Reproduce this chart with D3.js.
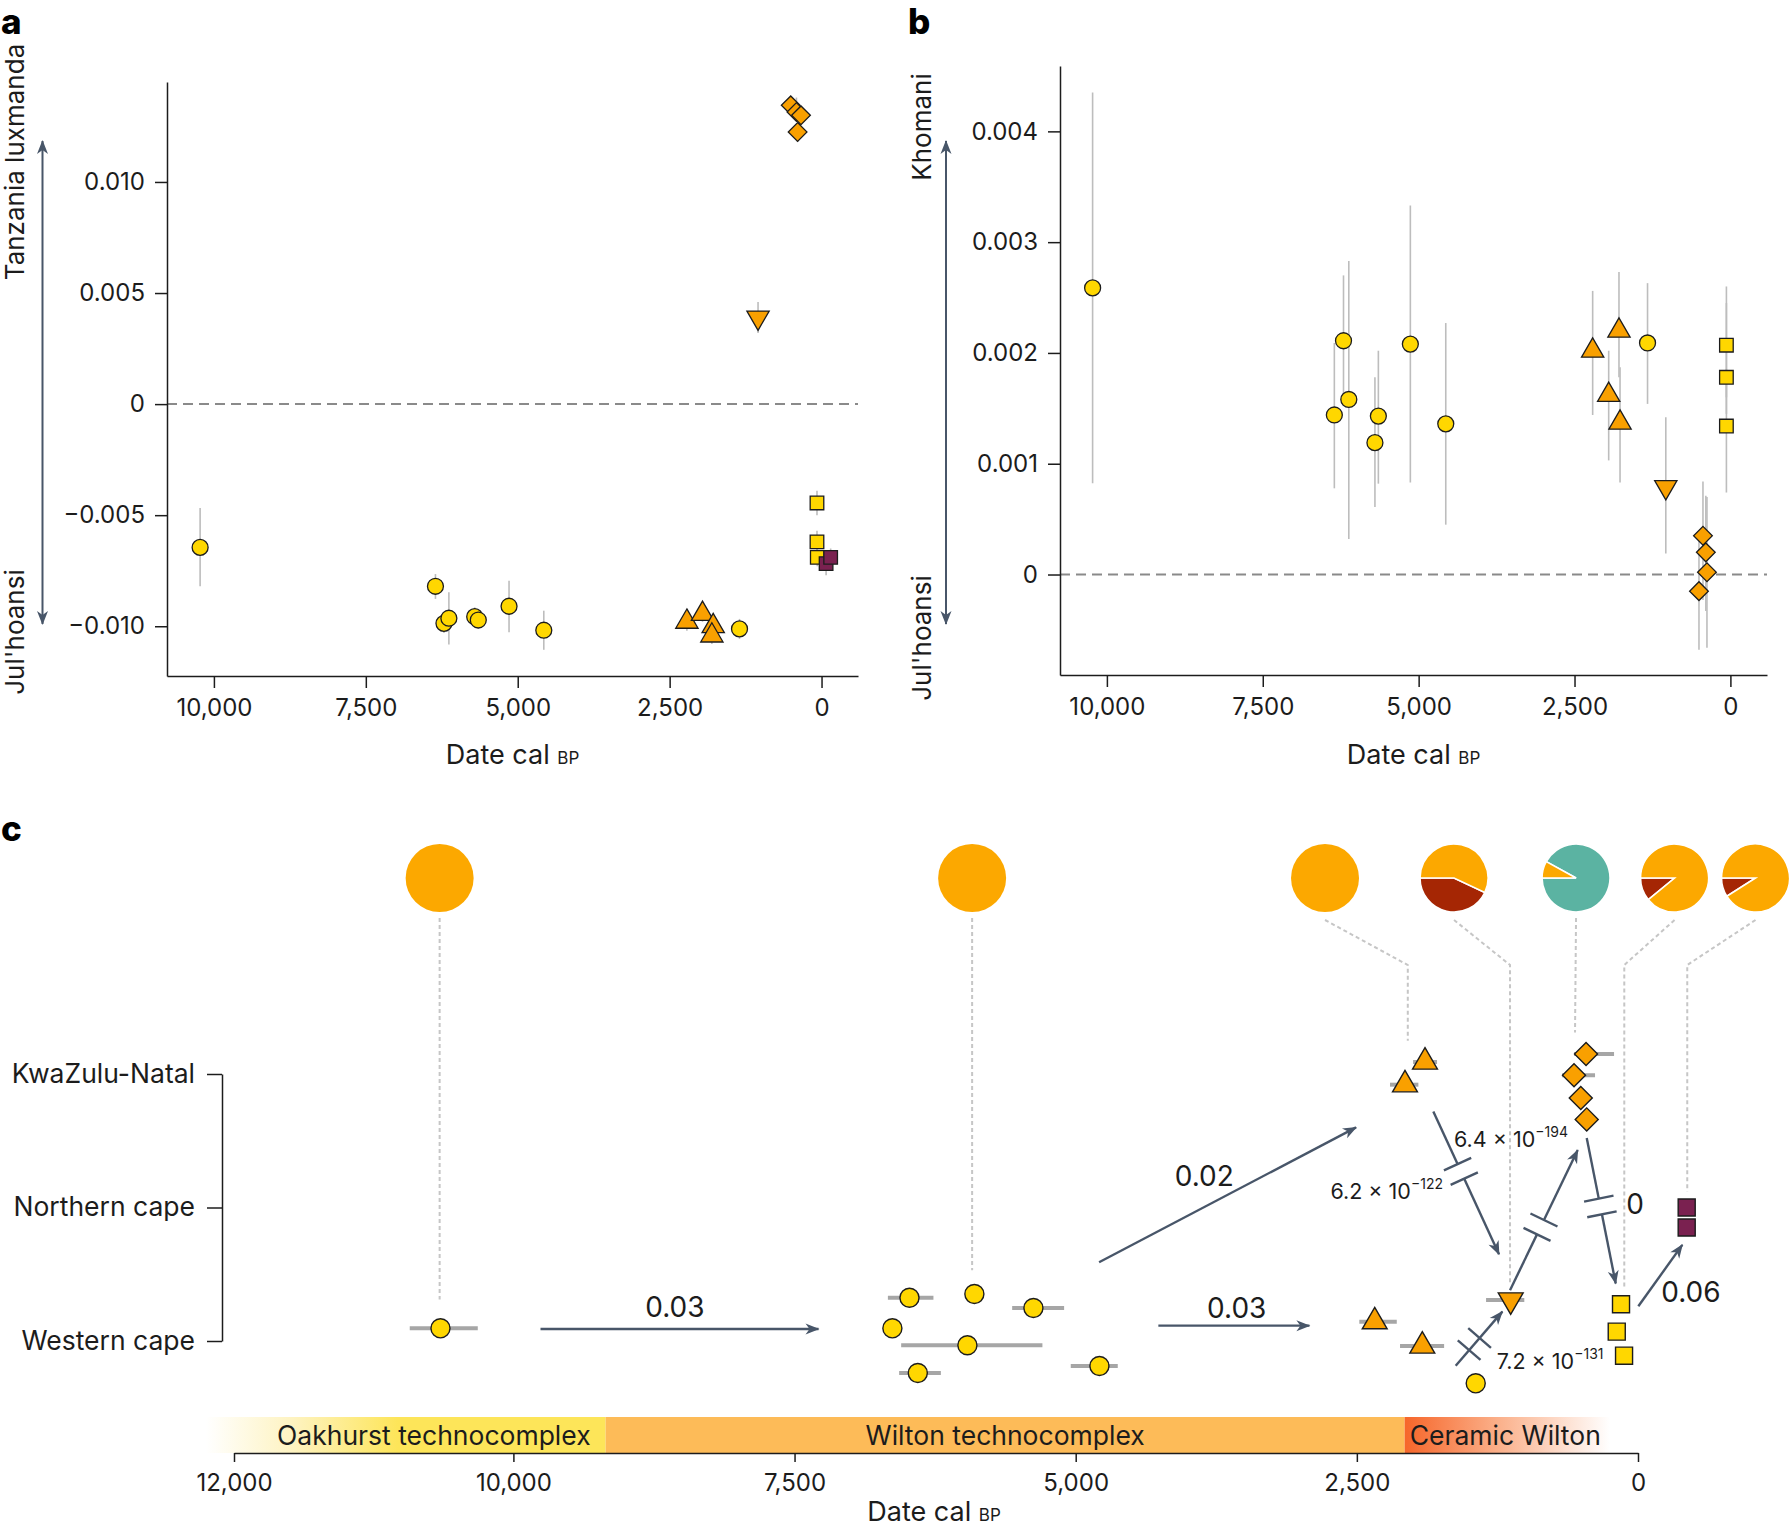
<!DOCTYPE html>
<html>
<head>
<meta charset="utf-8">
<script src="https://cdn.jsdelivr.net/npm/d3@7"></script>
<style>
  body { margin: 0; background: #fff; }
  svg { display: block; font-family: Inter, "Noto Sans", sans-serif; }
</style>
</head>
<body>
<svg id="fig" width="1791" height="1530"></svg>
<script>
// ---------------- data ----------------
// kinds: c = Western Cape forager (circle), t = triangle, v = down triangle,
//        d = diamond, s = yellow square, p = purple square

// panel a: Tanzania luxmanda <-> Jul'hoansi
const aKind  = ["c","c","c","c","c","c","c","c","c","t","t","t","t","v","d","d","d","d","s","s","s","p","p"];
const aDate  = [10227,6354,6214,6133,5708,5649,5143,4571,1350,2216,1959,1783,1805,1045,507,413,338,394,75,75,70,-75,-150];
const aValue = [-0.00645,-0.0082,-0.00987,-0.00964,-0.00957,-0.00972,-0.0091,-0.01018,-0.01012,
                -0.0098,-0.00945,-0.0100,-0.01042,0.0039,0.01345,0.01315,0.0130,0.01225,-0.00445,-0.0062,-0.0069,-0.00718,-0.0069];
const aLow   = [-0.0082,-0.00877,-0.0103,-0.01082,-0.01005,-0.0101,-0.01027,-0.01106,-0.01057,
                -0.0102,-0.0098,-0.0104,-0.0108,0.0032,0.0132,0.0129,0.0127,0.0118,-0.0050,-0.0066,-0.0073,-0.0077,-0.0073];
const aHigh  = [-0.00468,-0.00765,-0.0096,-0.00847,-0.00915,-0.0093,-0.00795,-0.0093,-0.00967,
                -0.0095,-0.0091,-0.0097,-0.0101,0.0046,0.0138,0.0138,0.0133,0.0126,-0.0039,-0.0057,-0.0065,-0.0069,-0.0065];
const aXTicks = [10000, 7500, 5000, 2500, 0];
const aXTickLabels = ["10,000", "7,500", "5,000", "2,500", "0"];
const aYTicks = [-0.010, -0.005, 0, 0.005, 0.010];
const aYTickLabels = ["\u22120.010", "\u22120.005", "0", "0.005", "0.010"];

// panel b: Khomani <-> Jul'hoansi
const bKind  = ["c","c","c","c","c","c","c","c","c","t","t","t","t","v","d","d","d","d","s","s","s"];
const bDate  = [10229,6352,6205,6120,5701,5646,5133,4565,1329,2209,1952,1787,1770,1036,504,440,394,376,64,64,64];
const bValue = [0.002587,0.00144,0.00211,0.00158,0.00119,0.00143,0.00208,0.00136,0.00209,
                0.00202,0.00162,0.00220,0.00137,0.00079,-0.00015,0.00035,0.00020,0.00002,0.00207,0.00178,0.00134];
const bLow   = [0.000823,0.000778,0.00152,0.00032,0.00061,0.00082,0.00083,0.00045,0.00154,
                0.00144,0.00103,0.00178,0.00083,0.00019,-0.00068,-0.00023,-0.00033,-0.00066,0.00160,0.00145,0.00074];
const bHigh  = [0.004351,0.00209,0.0027,0.00283,0.00178,0.00202,0.00333,0.00227,0.00263,
                0.00256,0.00202,0.00273,0.00187,0.00142,0.00038,0.00084,0.00071,0.00070,0.00260,0.00245,0.00185];
const bXTicks = [10000, 7500, 5000, 2500, 0];
const bXTickLabels = ["10,000", "7,500", "5,000", "2,500", "0"];
const bYTicks = [0, 0.001, 0.002, 0.003, 0.004];
const bYTickLabels = ["0", "0.001", "0.002", "0.003", "0.004"];

// panel c: samples by region (row 0 Western cape, 1 Northern cape, 2 KwaZulu-Natal, fractional = jitter)
const regionNames = ["Western cape", "Northern cape", "KwaZulu-Natal"];
const cKind    = ["c","c","c","c","c","c","c","c","t","t","c","v","s","s","s","p","p","t","t","d","d","d","d"];
const cDate    = [10522,6478,5901,5376,6630,5963,6404,4789,2341,1918,1443,1132,151,189,124,-433,-433,1894,2072,462,569,509,456];
const cRow     = [0.095,0.324,0.352,0.247,0.095,-0.032,-0.24,-0.187,0.145,-0.037,-0.317,0.307,0.275,0.07,-0.11,1.0,0.85,2.09,1.92,2.15,1.99,1.82,1.66];
const cDateLow = [10255,6265,null,5103,null,5296,6199,4626,2145,1724,null,1011,null,null,null,null,null,1787,1953,213,382,null,null];
const cDateHigh= [10742,6670,null,5565,null,6552,6570,5044,2478,2116,null,1351,null,null,null,null,null,2000,2205,569,676,null,null];
const cXTicks = [12000, 10000, 7500, 5000, 2500, 0];
const cXTickLabels = ["12,000", "10,000", "7,500", "5,000", "2,500", "0"];

// technocomplex periods (date cal BP)
const periodNames = ["Oakhurst technocomplex", "Wilton technocomplex", "Ceramic Wilton"];
const periodStart = [12200, 9180, 2075];
const periodEnd   = [9180, 2075, 0];

// ancestry pies: [Khomani-like, Tanzania-like(red), Jul'hoansi-like(orange)]
const pieShares = [
  [0, 0, 1], [0, 0, 1], [0, 0, 1],
  [0, 0.43, 0.57], [0.92, 0, 0.08], [0, 0.11, 0.89], [0, 0.09, 0.91]
];
const pieAnchorDates = [10528, 5921, 2783, 1636, 551, -325, -1045];
const pieTargetDates = [10528, 5921, 2047, 1138, 560, 122, -438];
const pieTargetRows  = [0.31, 0.53, 2.25, 0.42, 2.31, 0.40, 1.12];

// continuity p-values between groups
const flows = [
  {from: [9759, 0.09],  to: [7287, 0.09],  label: "0.03",  at: [8564, 0.18]},
  {from: [4265, 0.115], to: [2922, 0.115], label: "0.03",  at: [3568, 0.17]},
  {from: [4792, 0.59],  to: [2507, 1.60],  label: "0.02",  at: [3856, 1.16]},
  {from: [1820, 1.72],  to: [1236, 0.65],  label: "6.2 \u00d7 10", exp: "\u2212122", at: [1734, 1.06], anchor: "end",   cut: 0.42, gap: true},
  {from: [1138, 0.38],  to: [536, 1.43],   label: "6.4 \u00d7 10", exp: "\u2212194", at: [1636, 1.45], anchor: "start", cut: 0.45, gap: true},
  {from: [456, 1.52],   to: [198, 0.43],   label: "0",     at: [27, 0.95], cut: 0.47, gap: true},
  {from: [1621, -0.185],to: [1206, 0.22],  label: "7.2 \u00d7 10", exp: "\u2212131", at: [1256, -0.21], anchor: "start", cut: 0.40, gap: false},
  {from: [-3, 0.26],    to: [-394, 0.72],  label: "0.06",  at: [-471, 0.29]}
];

// ---------------- styles ----------------
const INK = "#1c1c1c", SLATE = "#485669";
const YELLOW = "#ffd700", ORANGE = "#f9a000", PURPLE = "#7a2150";
const pieColors = ["#5bb3a2", "#a52604", "#fca800"];
const shapeOf = {c: d3.symbolCircle, t: d3.symbolTriangle, v: d3.symbolTriangle, d: d3.symbolSquare, s: d3.symbolSquare, p: d3.symbolSquare};
const rotOf = {c: 0, t: 0, v: 180, d: 45, s: 0, p: 0};
const fillOf = {c: YELLOW, t: ORANGE, v: ORANGE, d: ORANGE, s: YELLOW, p: PURPLE};
const areaAB = {c: 200, t: 215, v: 215, d: 175, s: 185, p: 185};
const areaC  = {c: 285, t: 268, v: 268, d: 265, s: 290, p: 290};

const svg = d3.select("#fig");
const defs = svg.append("defs");
defs.append("marker").attr("id", "head")
  .attr("viewBox", "-14 -7 16 14").attr("markerWidth", 16).attr("markerHeight", 14)
  .attr("refX", 0).attr("refY", 0).attr("orient", "auto-start-reverse").attr("markerUnits", "userSpaceOnUse")
  .append("path").attr("d", "M1,0 L-13,-5.5 L-9,0 L-13,5.5Z").attr("fill", SLATE);

function styleAxis(g, size) {
  g.selectAll(".domain").attr("stroke", INK).attr("stroke-width", 1.5);
  g.selectAll(".tick line").attr("stroke", INK).attr("stroke-width", 1.5);
  g.selectAll(".tick text").attr("fill", INK).attr("font-size", size).attr("font-family", "Inter, sans-serif");
}

function dateTitle(x, y) {
  const t = svg.append("text").attr("x", x).attr("y", y).attr("text-anchor", "middle")
    .attr("fill", INK).attr("font-size", 27);
  t.append("tspan").text("Date cal ");
  t.append("tspan").attr("font-size", 17).text("BP");
}

function sidePanel(opt) {
  const x = d3.scaleLinear().domain(opt.xDomain).range(opt.xRange);
  const y = d3.scaleLinear().domain(opt.yDomain).range(opt.yRange);
  const g = svg.append("g");

  g.append("line")
    .attr("x1", opt.xRange[0]).attr("x2", opt.xRange[1])
    .attr("y1", y(0)).attr("y2", y(0))
    .attr("stroke", "#8a8a8a").attr("stroke-width", 2).attr("stroke-dasharray", "10,6");

  const pts = opt.kind.map((k, i) => ({k, date: opt.date[i], v: opt.value[i], lo: opt.low[i], hi: opt.high[i]}));
  g.selectAll(".err").data(pts).join("line")
    .attr("x1", d => x(d.date)).attr("x2", d => x(d.date))
    .attr("y1", d => y(d.lo)).attr("y2", d => y(d.hi))
    .attr("stroke", "#bdbdbd").attr("stroke-width", 1.6);

  g.selectAll(".pt").data(pts).join("path")
    .attr("d", d => d3.symbol(shapeOf[d.k], areaAB[d.k])())
    .attr("transform", d => `translate(${x(d.date)},${y(d.v)}) rotate(${rotOf[d.k]})`)
    .attr("fill", d => fillOf[d.k]).attr("stroke", INK).attr("stroke-width", 1.3);

  const ax = g.append("g").attr("transform", `translate(0,${opt.yRange[0]})`)
    .call(d3.axisBottom(x).tickValues(opt.xTicks).tickFormat((d, i) => opt.xLabels[i])
      .tickSize(12).tickSizeOuter(0).tickPadding(11));
  styleAxis(ax, 24);
  const ay = g.append("g").attr("transform", `translate(${opt.xRange[0]},0)`)
    .call(d3.axisLeft(y).tickValues(opt.yTicks).tickFormat((d, i) => opt.yLabels[i])
      .tickSize(12).tickSizeOuter(0).tickPadding(10));
  styleAxis(ay, 24);

  // direction arrow
  g.append("line").attr("x1", opt.arrowX).attr("x2", opt.arrowX)
    .attr("y1", 141).attr("y2", 624)
    .attr("stroke", SLATE).attr("stroke-width", 2)
    .attr("marker-start", "url(#head)").attr("marker-end", "url(#head)");
  g.append("text").attr("transform", `translate(${opt.labelX},${opt.topLabelY}) rotate(-90)`)
    .attr("text-anchor", "middle").attr("fill", INK).attr("font-size", 26).text(opt.topLabel);
  g.append("text").attr("transform", `translate(${opt.labelX},${opt.botLabelY}) rotate(-90)`)
    .attr("text-anchor", "middle").attr("fill", INK).attr("font-size", 26).text("Jul'hoansi");

  dateTitle((opt.xRange[0] + opt.xRange[1]) / 2, 764);
}

// ---------------- panel a ----------------
sidePanel({
  kind: aKind, date: aDate, value: aValue, low: aLow, high: aHigh,
  xDomain: [10772, -600], xRange: [167, 858],
  yDomain: [-0.01224, 0.0145], yRange: [676, 82],
  xTicks: aXTicks, xLabels: aXTickLabels, yTicks: aYTicks, yLabels: aYTickLabels,
  arrowX: 42.5, labelX: 24, topLabel: "Tanzania luxmanda", topLabelY: 162, botLabelY: 632
});

// ---------------- panel b ----------------
sidePanel({
  kind: bKind, date: bDate, value: bValue, low: bLow, high: bHigh,
  xDomain: [10752, -587], xRange: [1060, 1767],
  yDomain: [-0.000907, 0.00459], yRange: [675, 66],
  xTicks: bXTicks, xLabels: bXTickLabels, yTicks: bYTicks, yLabels: bYTickLabels,
  arrowX: 946, labelX: 931, topLabel: "Khomani", topLabelY: 127, botLabelY: 638
});

// ---------------- panel c ----------------
const cx = d3.scaleLinear().domain([12000, 10000, 0]).range([234, 513.4, 1638]);
const cy = d3.scaleLinear().domain([0, 2]).range([1341, 1074]);
const gc = svg.append("g");

// technocomplex bar
const barTop = 1417, barH = 36;
const gradO = defs.append("linearGradient").attr("id", "gOak").attr("gradientUnits", "userSpaceOnUse")
  .attr("x1", cx(periodStart[0])).attr("x2", cx(periodEnd[0])).attr("y1", 0).attr("y2", 0);
gradO.append("stop").attr("offset", 0).attr("stop-color", "#ffffff");
gradO.append("stop").attr("offset", 0.22).attr("stop-color", "#fef3c0");
gradO.append("stop").attr("offset", 0.48).attr("stop-color", "#fde559");
gradO.append("stop").attr("offset", 1).attr("stop-color", "#fde559");
const gradC = defs.append("linearGradient").attr("id", "gCer").attr("gradientUnits", "userSpaceOnUse")
  .attr("x1", cx(periodStart[2])).attr("x2", cx(periodEnd[2])).attr("y1", 0).attr("y2", 0);
gradC.append("stop").attr("offset", 0).attr("stop-color", "#f6662a");
gradC.append("stop").attr("offset", 0.4).attr("stop-color", "#fbb08a");
gradC.append("stop").attr("offset", 0.88).attr("stop-color", "#ffffff");
const periodFill = ["url(#gOak)", "#fdbb58", "url(#gCer)"];
const periodAnchor = ["end", "middle", "start"];
gc.selectAll(".period").data(periodNames).join("rect")
  .attr("x", (d, i) => cx(periodStart[i])).attr("width", (d, i) => cx(periodEnd[i]) - cx(periodStart[i]))
  .attr("y", barTop).attr("height", barH).attr("fill", (d, i) => periodFill[i]);
gc.selectAll(".plabel").data(periodNames).join("text")
  .attr("x", (d, i) => i === 0 ? cx(periodEnd[i]) - 15 : i === 2 ? cx(periodStart[i]) + 5 : (cx(periodStart[i]) + cx(periodEnd[i])) / 2)
  .attr("y", barTop + 28).attr("text-anchor", (d, i) => periodAnchor[i])
  .attr("fill", INK).attr("font-size", 26.5).text(d => d);

const cax = gc.append("g").attr("transform", `translate(0,${barTop + barH})`)
  .call(d3.axisBottom(cx).tickValues(cXTicks).tickFormat((d, i) => cXTickLabels[i])
    .tickSize(9).tickSizeOuter(0).tickPadding(12));
styleAxis(cax, 24);
dateTitle(934, 1521);

// region bracket axis
const cay = gc.append("g").attr("transform", "translate(222,0)")
  .call(d3.axisLeft(cy).tickValues([0, 1, 2]).tickFormat(i => regionNames[i])
    .tickSize(15).tickSizeOuter(0).tickPadding(12));
styleAxis(cay, 26.5);

// pies and leader lines
const pieY = 878, pieR = 34, elbowY = 965;
const pieLayout = d3.pie().sort(null).startAngle(1.5 * Math.PI).endAngle(-0.5 * Math.PI);
const arc = d3.arc().innerRadius(0).outerRadius(pieR);
pieShares.forEach((shares, i) => {
  const px = cx(pieAnchorDates[i]), tx = cx(pieTargetDates[i]), ty = cy(pieTargetRows[i]);
  const pts = Math.abs(px - tx) < 2 ? [[px, pieY + 40], [tx, ty]] : [[px, pieY + 42], [tx, elbowY], [tx, ty]];
  gc.append("path").attr("d", d3.line()(pts)).attr("fill", "none")
    .attr("stroke", "#c6c6c6").attr("stroke-width", 2).attr("stroke-dasharray", "4,3");
  const pg = gc.append("g").attr("transform", `translate(${px},${pieY})`);
  pg.selectAll("path").data(pieLayout(shares).map((a, j) => ({a, j})).filter(d => d.a.value > 0)).join("path")
    .attr("d", d => arc(d.a)).attr("fill", d => pieColors[d.j])
    .attr("stroke", "#fff").attr("stroke-width", shares.filter(s => s > 0).length > 1 ? 1.6 : 0);
});

// horizontal date error bars
const cPts = cKind.map((k, i) => ({k, date: cDate[i], row: cRow[i], lo: cDateLow[i], hi: cDateHigh[i]}));
gc.selectAll(".cerr").data(cPts.filter(d => d.lo != null)).join("line")
  .attr("x1", d => cx(d.lo)).attr("x2", d => cx(d.hi))
  .attr("y1", d => cy(d.row)).attr("y2", d => cy(d.row))
  .attr("stroke", "#a6a6a6").attr("stroke-width", 4);

// flows
flows.forEach(f => {
  const x1 = cx(f.from[0]), y1 = cy(f.from[1]), x2 = cx(f.to[0]), y2 = cy(f.to[1]);
  const L = Math.hypot(x2 - x1, y2 - y1), ux = (x2 - x1) / L, uy = (y2 - y1) / L;
  const seg = (a, b, head) => {
    const l = gc.append("line").attr("x1", a[0]).attr("y1", a[1]).attr("x2", b[0]).attr("y2", b[1])
      .attr("stroke", SLATE).attr("stroke-width", 2.4);
    if (head) l.attr("marker-end", "url(#head)");
  };
  if (f.cut == null) {
    seg([x1, y1], [x2, y2], true);
  } else {
    const mx = x1 + ux * L * f.cut, my = y1 + uy * L * f.cut, g = 8;
    if (f.gap) {
      seg([x1, y1], [mx - ux * g, my - uy * g], false);
      seg([mx + ux * g, my + uy * g], [x2, y2], true);
    } else {
      seg([x1, y1], [x2, y2], true);
    }
    [-g, g].forEach(s => {
      const bx = mx + ux * s, by = my + uy * s;
      gc.append("line").attr("x1", bx - uy * 15).attr("y1", by + ux * 15)
        .attr("x2", bx + uy * 15).attr("y2", by - ux * 15)
        .attr("stroke", SLATE).attr("stroke-width", 2.4);
    });
  }
  const t = gc.append("text").attr("x", cx(f.at[0])).attr("y", cy(f.at[1]))
    .attr("text-anchor", f.anchor || "middle").attr("fill", INK)
    .attr("font-size", f.exp ? 21.5 : 28);
  t.append("tspan").text(f.label);
  if (f.exp) t.append("tspan").attr("dy", -10).attr("font-size", 14).text(f.exp);
});

// sample markers
gc.selectAll(".cpt").data(cPts).join("path")
  .attr("d", d => d3.symbol(shapeOf[d.k], areaC[d.k])())
  .attr("transform", d => `translate(${cx(d.date)},${cy(d.row)}) rotate(${rotOf[d.k]})`)
  .attr("fill", d => fillOf[d.k]).attr("stroke", INK).attr("stroke-width", 1.4);

// panel letters
[["a", 1, 34], ["b", 908, 34], ["c", 1, 841]].forEach(([s, x, y]) =>
  svg.append("text").attr("x", x).attr("y", y).attr("font-size", 35).attr("font-weight", 800)
    .attr("fill", "#000").text(s));
</script>
</body>
</html>
